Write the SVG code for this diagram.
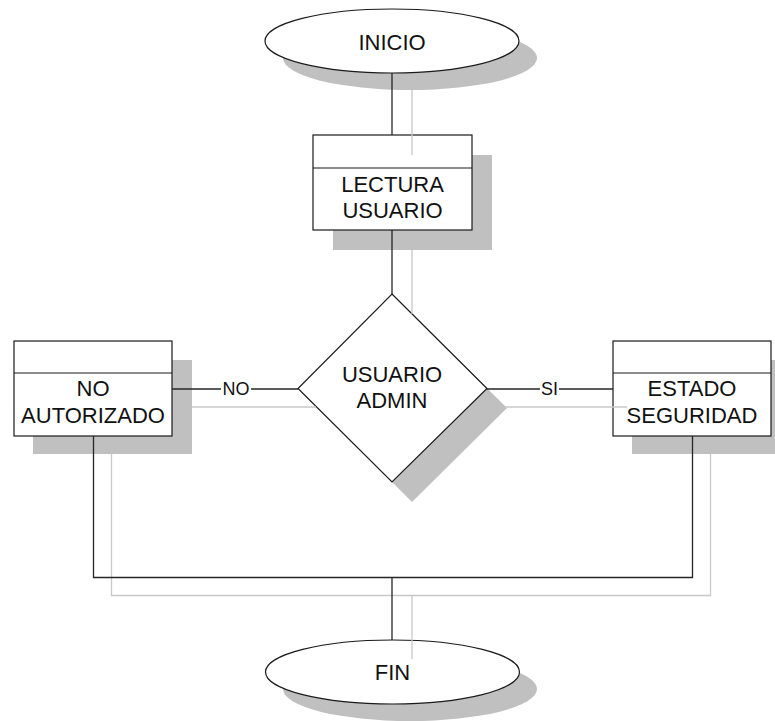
<svg xmlns="http://www.w3.org/2000/svg" width="775" height="721" viewBox="0 0 775 721">
  <style>
    .shadow { fill: #c0c0c0; stroke: none; }
    .shape { fill: #ffffff; stroke: #1a1a1a; stroke-width: 1.2; }
    .label { font-family: "Liberation Sans", Arial, sans-serif; font-size: 22px; fill: #111; text-anchor: middle; }
    .edge-label { font-family: "Liberation Sans", Arial, sans-serif; font-size: 18px; fill: #111; text-anchor: middle; }
    .wire { stroke: #262626; stroke-width: 1.3; fill: none; }
    .wire-shadow { stroke: #c8c8c8; stroke-width: 1.3; fill: none; }
    .gap { fill: #ffffff; }
  </style>

  <rect width="775" height="721" fill="#ffffff"/>

  <!-- start terminal -->
  <g id="inicio">
    <ellipse class="shadow" cx="410" cy="58" rx="127" ry="32"/>
    <ellipse class="shape" cx="392" cy="41" rx="127" ry="32"/>
    <text class="label" x="392" y="50">INICIO</text>
  </g>

  <!-- read user -->
  <g id="lectura-usuario">
    <rect class="shadow" x="333" y="155" width="159" height="95"/>
    <rect class="shape" x="313" y="135" width="159" height="95"/>
    <line class="shape" x1="313" y1="168" x2="472" y2="168"/>
    <text class="label" x="392.5" y="192">LECTURA</text>
    <text class="label" x="392.5" y="218">USUARIO</text>
  </g>

  <!-- decision -->
  <g id="usuario-admin">
    <polygon class="shadow" points="412,314 507,408 412,502 318,408"/>
    <polygon class="shape" points="392,294 487,388.5 392,482 298,388.5"/>
    <text class="label" x="392" y="382">USUARIO</text>
    <text class="label" x="392" y="408">ADMIN</text>
  </g>

  <!-- not authorised -->
  <g id="no-autorizado">
    <rect class="shadow" x="33" y="360" width="159" height="94"/>
    <rect class="shape" x="14" y="341" width="158" height="95"/>
    <line class="shape" x1="14" y1="373" x2="172" y2="373"/>
    <text class="label" x="93" y="396">NO</text>
    <text class="label" x="93" y="423">AUTORIZADO</text>
  </g>

  <!-- security state -->
  <g id="estado-seguridad">
    <rect class="shadow" x="632" y="360" width="160" height="94"/>
    <rect class="shape" x="613" y="341" width="158" height="95"/>
    <line class="shape" x1="613" y1="373" x2="771" y2="373"/>
    <text class="label" x="692" y="396">ESTADO</text>
    <text class="label" x="692" y="423">SEGURIDAD</text>
  </g>

  <!-- end terminal -->
  <g id="fin">
    <ellipse class="shadow" cx="410" cy="689" rx="127" ry="32"/>
    <ellipse class="shape" cx="392.5" cy="672" rx="127" ry="32"/>
    <text class="label" x="392.5" y="680">FIN</text>
  </g>

  <g id="connectors">
    <!-- drop-shadow copies of the flow lines -->
    <g class="wire-shadow">
      <line x1="412" y1="90" x2="412" y2="155"/>
      <line x1="412" y1="250" x2="412" y2="314"/>
      <line x1="192" y1="407" x2="316" y2="407"/>
      <line x1="505" y1="407" x2="627" y2="407"/>
      <polyline points="111.5,454 111.5,595.5 710.5,595.5 710.5,454"/>
      <line x1="412" y1="595.5" x2="412" y2="659"/>
    </g>

    <!-- flow lines -->
    <g class="wire">
      <line x1="392" y1="73" x2="392" y2="135"/>
      <line x1="392" y1="230" x2="392" y2="294"/>
      <line x1="172" y1="389" x2="298" y2="389"/>
      <line x1="487" y1="389" x2="613" y2="389"/>
      <polyline points="93.5,436 93.5,577.5 692.5,577.5 692.5,436"/>
      <line x1="392" y1="577.5" x2="392" y2="640"/>
    </g>

    <!-- branch labels -->
    <rect class="gap" x="221" y="380" width="30" height="17"/>
    <text class="edge-label" x="236" y="395">NO</text>
    <rect class="gap" x="540" y="380" width="19" height="17"/>
    <text class="edge-label" x="549.5" y="395">SI</text>
  </g>
</svg>
